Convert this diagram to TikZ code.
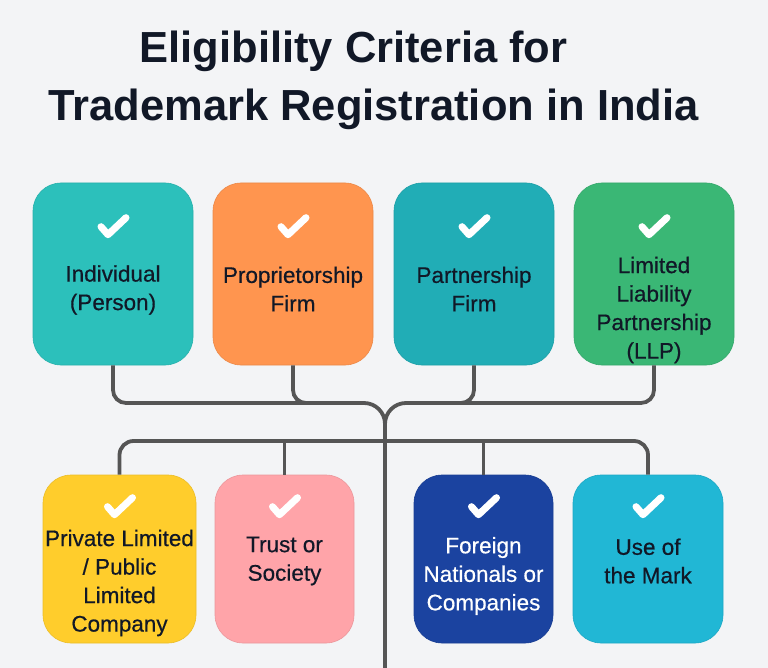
\documentclass[tikz,border=0pt]{standalone}
\usepackage{fontspec}
\setmainfont{Liberation Sans}
\newfontfamily\medfont[FakeBold=0.5]{Liberation Sans}
\definecolor{bg}{HTML}{F3F4F6}
\definecolor{ink}{HTML}{111827}
\definecolor{wire}{HTML}{555555}
\definecolor{cA}{HTML}{2CC0BB}
\definecolor{cB}{HTML}{FF954F}
\definecolor{cC}{HTML}{21ADB6}
\definecolor{cD}{HTML}{3AB775}
\definecolor{cE}{HTML}{FFCD2C}
\definecolor{cF}{HTML}{FFA4A9}
\definecolor{cG}{HTML}{1B43A0}
\definecolor{cH}{HTML}{21B7D5}
\begin{document}
\begin{tikzpicture}[x=1pt,y=-1pt,
  card/.style={rounded corners=28pt, inner sep=0pt, line width=0.6pt},
  lbl/.style={align=center, text=ink, font=\medfont\fontsize{22.5}{28.5}\selectfont},
  ttl/.style={anchor=base, text=ink, font=\fontsize{43.5}{50}\selectfont\bfseries},
  chkstyle/.style={draw=white, line width=7pt, line cap=round, line join=round},
  conn/.style={draw=wire, line width=3.8pt, rounded corners=13pt}]
\useasboundingbox[fill=bg] (0,0) rectangle (768,668);

\node[ttl] (title1) at (353.5,63) {Eligibility Criteria for};
\node[ttl] (title2) at (373.5,121) {Trademark Registration in India};

\coordinate (jt) at (385,424);
\coordinate (tb) at (385,668);
\coordinate (lb) at (385,441);
\coordinate (ql) at (364,403);
\coordinate (qr) at (406,403);

% top boxes
\node[card, fill=cA, draw=cA!92!black, minimum width=160pt, minimum height=182pt] (b1) at (113,274) {};
\node[card, fill=cB, draw=cB!92!black, minimum width=160pt, minimum height=182pt] (b2) at (293,274) {};
\node[card, fill=cC, draw=cC!92!black, minimum width=160pt, minimum height=182pt] (b3) at (474,274) {};
\node[card, fill=cD, draw=cD!92!black, minimum width=160pt, minimum height=182pt] (b4) at (654,274) {};
% bottom boxes
\node[card, fill=cE, draw=cE!92!black, minimum width=153pt, minimum height=168pt] (b5) at (119.5,559) {};
\node[card, fill=cF, draw=cF!92!black, minimum width=139pt, minimum height=168pt] (b6) at (284.5,559) {};
\node[card, fill=cG, draw=cG!92!black, minimum width=139pt, minimum height=168pt] (b7) at (483.5,559) {};
\node[card, fill=cH, draw=cH!92!black, minimum width=150pt, minimum height=168pt] (b8) at (648,559) {};

\draw[conn] (b1.south) |- (ql);
\draw[conn] (b2.south) |- (325,403);
\draw[conn] (b3.south) |- (445,403);
\draw[conn] (b4.south) |- (qr);
\draw[conn, sharp corners] (ql) .. controls (375.6,403) and (385,412.4) .. (jt);
\draw[conn, sharp corners] (qr) .. controls (394.4,403) and (385,412.4) .. (jt);
\draw[conn] (jt) -- (tb);
\draw[conn, rounded corners=14pt] (b5.north) |- (lb) -| (b8.north);
\draw[conn] (b6.north) -- (b6.north |- lb);
\draw[conn] (b7.north) -- (b7.north |- lb);

% check marks
\foreach \b in {b1,b2,b3,b4}
  \draw[chkstyle, shift={(\b.north)}] (-12,44) -- (-5,52) -- (13,35);
\foreach \b in {b5,b6,b7,b8}
  \draw[chkstyle, shift={(\b.north)}] (-12,32) -- (-5,40) -- (13,23);

% labels
\node[lbl] (t1) at (113,290) {Individual\\(Person)};
\node[lbl] (t2) at (293,289) {Proprietorship\\Firm};
\node[lbl] (t3) at (474,289) {Partnership\\Firm};
\node[lbl] (t4) at (654,310) {Limited\\Liability\\Partnership\\(LLP)};
\node[lbl] (t5) at (119.5,583) {Private Limited\\/ Public\\Limited\\Company};
\node[lbl] (t6) at (284.5,561) {Trust or\\Society};
\node[lbl, text=white] (t7) at (483.5,576) {Foreign\\Nationals or\\Companies};
\node[lbl] (t8) at (648,561) {Use of\\the Mark};
\end{tikzpicture}
\end{document}
